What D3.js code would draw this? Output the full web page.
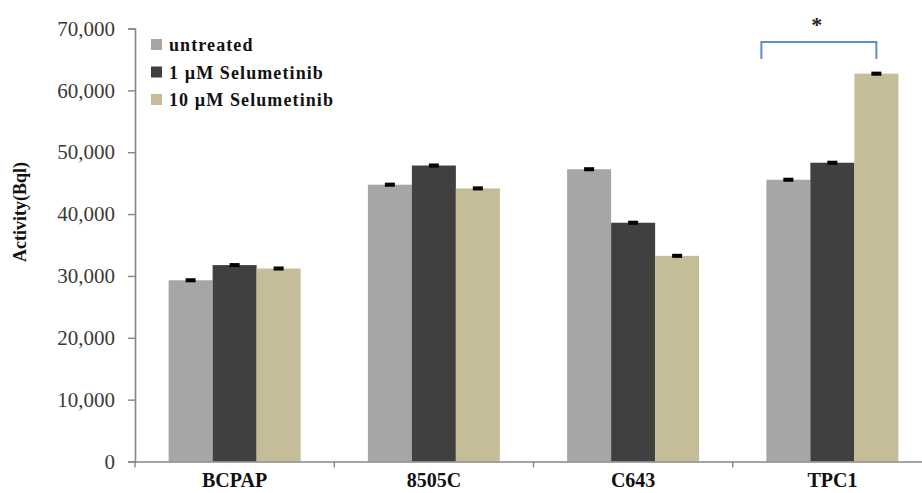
<!DOCTYPE html>
<html>
<head>
<meta charset="utf-8">
<script src="https://cdn.jsdelivr.net/npm/d3@7"></script>
<style>
  html, body { margin: 0; padding: 0; background: #ffffff; }
  svg { display: block; }
</style>
</head>
<body>
<svg id="chart" width="922" height="493"></svg>
<script>
// Cell lines and treatment groups
const categories = ["BCPAP", "8505C", "C643", "TPC1"];
const seriesNames = ["untreated", "1 \u00b5M Selumetinib", "10 \u00b5M Selumetinib"];
const seriesColors = ["#a6a6a6", "#404040", "#c4bd97"];

// Activity (Bql) per cell line, one array per treatment
const untreated = [29300, 44750, 47250, 45550];
const selumetinib1 = [31750, 47850, 38600, 48300];
const selumetinib10 = [31200, 44150, 33250, 62700];

// Standard errors per bar
const errUntreated = [150, 150, 150, 150];
const errSel1 = [150, 150, 150, 150];
const errSel10 = [150, 150, 150, 150];

// Y axis ticks
const yTicks = [0, 10000, 20000, 30000, 40000, 50000, 60000, 70000];

const seriesValues = [untreated, selumetinib1, selumetinib10];
const seriesErrors = [errUntreated, errSel1, errSel10];

const svg = d3.select("#chart");
const axisColor = "#868686";
const serif = "'Liberation Serif', 'Times New Roman', serif";

const plot = { left: 135, right: 932, top: 28.5, bottom: 461.5 };

const x0 = d3.scaleBand()
  .domain(categories)
  .range([plot.left, plot.right])
  .paddingInner(0.3375)
  .paddingOuter(0.16875);

const x1 = d3.scaleBand()
  .domain(d3.range(seriesNames.length))
  .range([0, x0.bandwidth()]);

const y = d3.scaleLinear()
  .domain([0, 70000])
  .range([plot.bottom, plot.top]);

// Bars
const rows = [];
categories.forEach((c, ci) => {
  seriesValues.forEach((vals, si) => {
    rows.push({ cat: c, s: si, v: vals[ci], e: seriesErrors[si][ci] });
  });
});

svg.append("g").selectAll("rect")
  .data(rows)
  .join("rect")
  .attr("x", d => x0(d.cat) + x1(d.s))
  .attr("y", d => y(d.v))
  .attr("width", x1.bandwidth())
  .attr("height", d => y(0) - y(d.v))
  .attr("fill", d => seriesColors[d.s]);

// Error bars
const eg = svg.append("g").attr("stroke", "#000").attr("stroke-width", 2.2);
rows.forEach(d => {
  const cx = x0(d.cat) + x1(d.s) + x1.bandwidth() / 2;
  const hw = 5;
  eg.append("line").attr("x1", cx).attr("x2", cx).attr("y1", y(d.v + d.e)).attr("y2", y(d.v - d.e));
  eg.append("line").attr("x1", cx - hw).attr("x2", cx + hw).attr("y1", y(d.v + d.e)).attr("y2", y(d.v + d.e));
  eg.append("line").attr("x1", cx - hw).attr("x2", cx + hw).attr("y1", y(d.v - d.e)).attr("y2", y(d.v - d.e));
});

// Y axis
const yAxis = svg.append("g")
  .attr("transform", `translate(${plot.left},0)`)
  .call(d3.axisLeft(y).tickValues(yTicks).tickFormat(d3.format(",")).tickSize(7).tickPadding(13));
yAxis.select(".domain").attr("stroke", axisColor).attr("stroke-width", 1.6);
yAxis.selectAll(".tick line").attr("stroke", axisColor).attr("stroke-width", 1.4);
yAxis.selectAll(".tick text")
  .attr("fill", "#3a3a3a")
  .style("font-family", serif)
  .style("font-size", "21px");

// X axis
const xAxis = svg.append("g")
  .attr("transform", `translate(0,${plot.bottom})`)
  .call(d3.axisBottom(x0).tickSize(0).tickPadding(13));
xAxis.select(".domain").attr("stroke", axisColor).attr("stroke-width", 1.6);
xAxis.selectAll(".tick text")
  .attr("fill", "#111")
  .attr("dy", "0.62em")
  .style("font-family", serif)
  .style("font-weight", "bold")
  .style("font-size", "20px");

// Category boundary ticks on the x axis
const boundaries = categories.map(c => x0(c) - x0.step() * x0.paddingOuter());
svg.append("g").selectAll("line")
  .data(boundaries)
  .join("line")
  .attr("x1", d => d).attr("x2", d => d)
  .attr("y1", plot.bottom).attr("y2", plot.bottom + 6)
  .attr("stroke", axisColor).attr("stroke-width", 1.4);

// Y axis title
svg.append("text")
  .attr("transform", `translate(26,212) rotate(-90)`)
  .attr("text-anchor", "middle")
  .attr("fill", "#111")
  .style("font-family", serif)
  .style("font-weight", "bold")
  .style("font-size", "18px")
  .text("Activity(Bql)");

// Legend
const legend = svg.append("g").attr("transform", "translate(151,45)");
seriesNames.forEach((name, i) => {
  const g = legend.append("g").attr("transform", `translate(0,${i * 27.5})`);
  g.append("rect").attr("x", 0).attr("y", -6).attr("width", 11).attr("height", 11).attr("fill", seriesColors[i]);
  g.append("text")
    .attr("x", 18).attr("y", 0).attr("dy", "0.35em")
    .attr("fill", "#111")
    .style("font-family", serif)
    .style("font-weight", "bold")
    .style("font-size", "18px")
    .style("letter-spacing", "1.1px")
    .text(name);
});

// Significance bracket between untreated and 10 µM TPC1
const bx1 = x0("TPC1") - 5;
const bx2 = x0("TPC1") + x1(2) + x1.bandwidth() / 2;
const bTop = 42, bBottom = 59;
svg.append("path")
  .attr("d", `M${bx1},${bBottom}V${bTop}H${bx2}V${bBottom}`)
  .attr("fill", "none")
  .attr("stroke", "#5b8fd0")
  .attr("stroke-width", 2);
svg.append("text")
  .attr("x", (bx1 + bx2) / 2 - 2)
  .attr("y", 32)
  .attr("text-anchor", "middle")
  .attr("fill", "#222")
  .style("font-family", serif)
  .style("font-weight", "bold")
  .style("font-size", "22px")
  .text("*");
</script>
</body>
</html>
